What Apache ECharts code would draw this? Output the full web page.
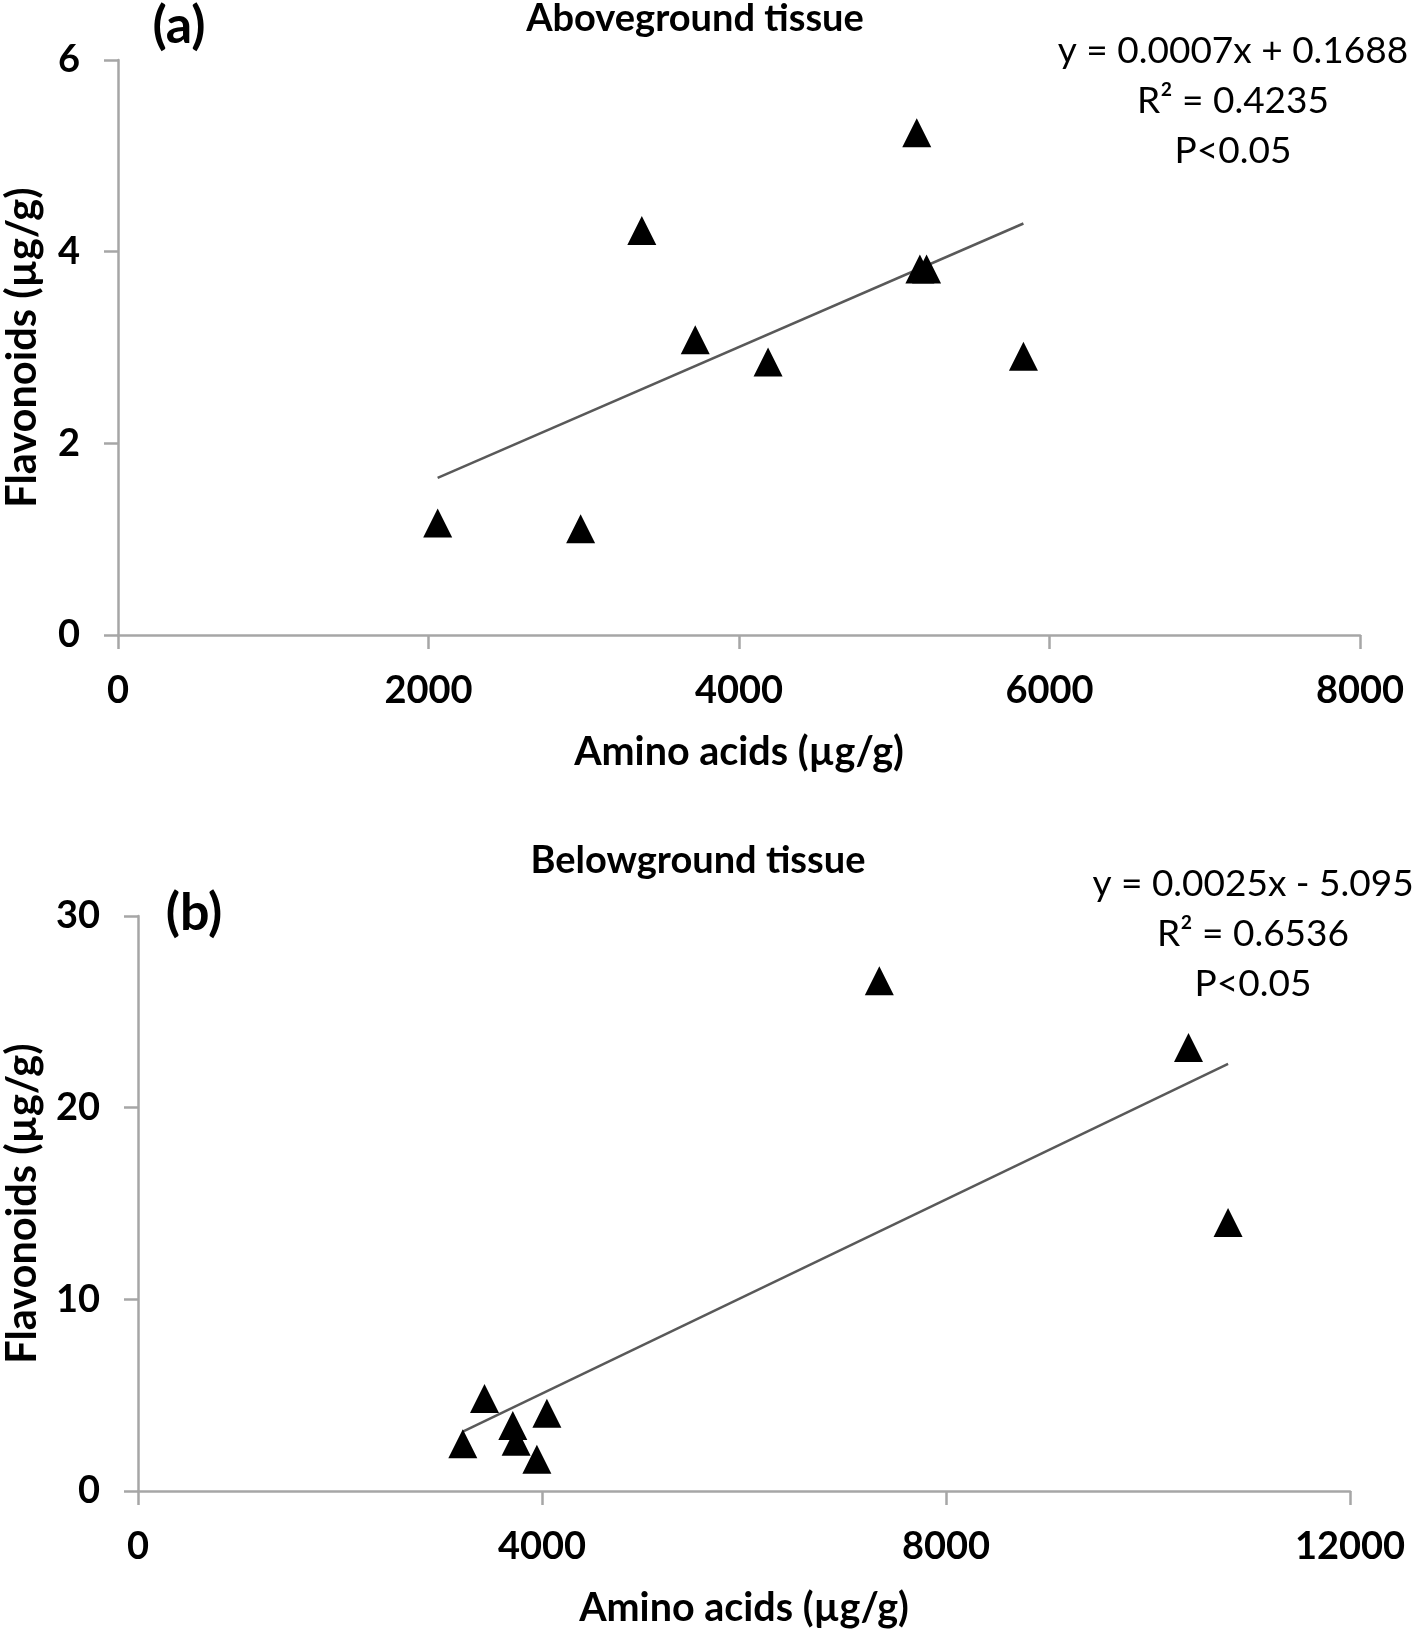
<!DOCTYPE html>
<html><head><meta charset="utf-8">
<script src="https://cdn.jsdelivr.net/npm/echarts@6/dist/echarts.min.js"></script>
<style>html,body{margin:0;padding:0;background:#fff}#c{width:1416px;height:1632px}</style>
</head><body><div id="c"></div><script>
// ---- data ----
const aboveAmino = [2059, 2980, 3374, 3718, 4187, 5145, 5165, 5208, 5832];
const aboveFlav  = [1.17, 1.11, 4.22, 3.08, 2.85, 5.24, 3.82, 3.82, 2.91];
const belowAmino = [3216, 3431, 3711, 3744, 3949, 4048, 7340, 10401, 10793];
const belowFlav  = [2.47, 4.83, 3.42, 2.60, 1.66, 4.06, 26.62, 23.14, 14.01];
const aboveXTicks = [0, 2000, 4000, 6000, 8000];
const aboveYTicks = [0, 2, 4, 6];
const belowXTicks = [0, 4000, 8000, 12000];
const belowYTicks = [0, 10, 20, 30];
const aboveTitle = 'Aboveground tissue';
const belowTitle = 'Belowground tissue';
const aboveEq = ['y = 0.0007x + 0.1688', 'R\u00b2 = 0.4235', 'P<0.05'];
const belowEq = ['y = 0.0025x - 5.095', 'R\u00b2 = 0.6536', 'P<0.05'];
const xName = 'Amino acids (\u00b5g/g)';
const yName = 'Flavonoids (\u00b5g/g)';

// ---- helpers ----
const FONT = 'Lato, "Open Sans", sans-serif';
function fit(xs, ys) {
  const n = xs.length;
  const mx = xs.reduce((a, b) => a + b, 0) / n;
  const my = ys.reduce((a, b) => a + b, 0) / n;
  let sxy = 0, sxx = 0;
  for (let i = 0; i < n; i++) { sxy += (xs[i] - mx) * (ys[i] - my); sxx += (xs[i] - mx) ** 2; }
  const k = sxy / sxx, b = my - k * mx;
  const x0 = Math.min(...xs), x1 = Math.max(...xs);
  return [[x0, k * x0 + b], [x1, k * x1 + b]];
}
const pairs = (xs, ys) => xs.map((x, i) => [x, ys[i]]);
const axisLine = { lineStyle: { color: '#a6a6a6', width: 2.5 } };
const axisTick = { show: true, inside: false, length: 14, lineStyle: { color: '#a6a6a6', width: 2.5 } };
const labelStyle = { color: '#000', fontFamily: FONT, fontWeight: 'bold', fontSize: 38, formatter: v => String(v) };
const nameStyle = { color: '#000', fontFamily: FONT, fontWeight: 'bold', fontSize: 39.5 };

function xAxis(ticks, idx) {
  return {
    type: 'value', gridIndex: idx, min: ticks[0], max: ticks[ticks.length - 1],
    interval: ticks[1] - ticks[0], splitLine: { show: false },
    axisLine, axisTick, axisLabel: Object.assign({ margin: 37 }, labelStyle),
    name: xName, nameLocation: 'middle', nameGap: 97, nameTextStyle: nameStyle
  };
}
function yAxis(ticks, idx, gap) {
  return {
    type: 'value', gridIndex: idx, min: ticks[0], max: ticks[ticks.length - 1],
    interval: ticks[1] - ticks[0], splitLine: { show: false },
    axisLine: Object.assign({ show: true }, axisLine), axisTick, axisLabel: Object.assign({ margin: 38 }, labelStyle),
    name: yName, nameLocation: 'middle', nameGap: gap, nameRotate: 90,
    nameTextStyle: Object.assign({}, nameStyle, { fontSize: 41.5 })
  };
}
function txt(text, x, y, size, weight) {
  return { type: 'text', x: x, y: y, z: 100,
    style: { text: text, font: weight + ' ' + size + 'px ' + FONT, fill: '#000', align: 'center', verticalAlign: 'middle' } };
}

const chart = echarts.init(document.getElementById('c'), null, { renderer: 'canvas' });
chart.setOption({
  backgroundColor: '#fff',
  animation: false,
  grid: [
    { left: 118, top: 60, width: 1242, height: 575, containLabel: false, outerBoundsMode: 'none' },
    { left: 138, top: 916, width: 1212, height: 575, containLabel: false, outerBoundsMode: 'none' }
  ],
  xAxis: [xAxis(aboveXTicks, 0), xAxis(belowXTicks, 1)],
  yAxis: [yAxis(aboveYTicks, 0, 74), yAxis(belowYTicks, 1, 94)],
  series: [
    { type: 'line', xAxisIndex: 0, yAxisIndex: 0, data: fit(aboveAmino, aboveFlav), symbol: 'none', z: 2,
      lineStyle: { color: '#595959', width: 2.5 } },
    { type: 'scatter', xAxisIndex: 0, yAxisIndex: 0, data: pairs(aboveAmino, aboveFlav), symbol: 'triangle',
      symbolSize: [29, 29], z: 3, itemStyle: { color: '#000', opacity: 1 } },
    { type: 'line', xAxisIndex: 1, yAxisIndex: 1, data: fit(belowAmino, belowFlav), symbol: 'none', z: 2,
      lineStyle: { color: '#595959', width: 2.5 } },
    { type: 'scatter', xAxisIndex: 1, yAxisIndex: 1, data: pairs(belowAmino, belowFlav), symbol: 'triangle',
      symbolSize: [29, 29], z: 3, itemStyle: { color: '#000', opacity: 1 } }
  ],
  graphic: [
    txt('(a)', 179, 26, 52, 'bold'),
    txt(aboveTitle, 695, 19, 38, 'bold'),
    txt(aboveEq[0], 1233, 51, 37, 'normal'),
    txt(aboveEq[1], 1233, 101, 37, 'normal'),
    txt(aboveEq[2], 1233, 151, 37, 'normal'),
    txt('(b)', 194, 913, 52, 'bold'),
    txt(belowTitle, 698, 861, 38, 'bold'),
    txt(belowEq[0], 1253, 884, 37, 'normal'),
    txt(belowEq[1], 1253, 934, 37, 'normal'),
    txt(belowEq[2], 1253, 984, 37, 'normal')
  ]
});
</script></body></html>
